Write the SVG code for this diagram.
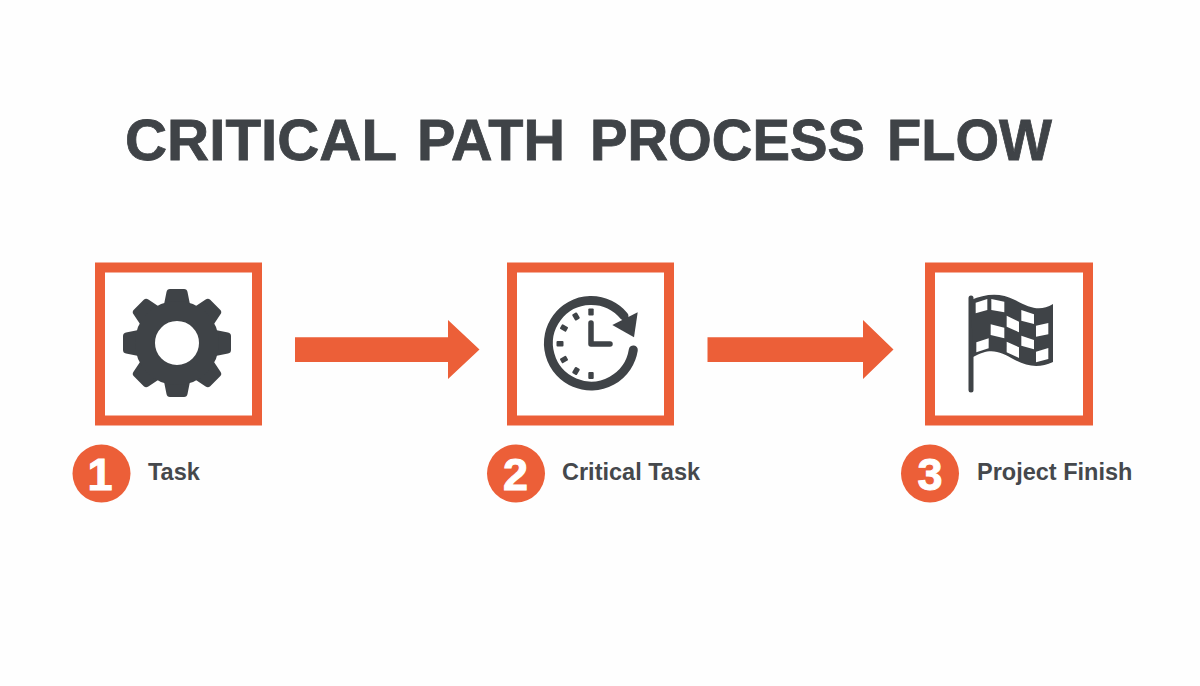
<svg xmlns="http://www.w3.org/2000/svg" width="1200" height="686" viewBox="0 0 1200 686">
<style>
.frame{fill:#fff;stroke:#ec5f38;stroke-width:10}
.dark{fill:#3f4347}
.badge{fill:#ec5f38}
.num{font:bold 45px "Liberation Sans",Arial,sans-serif;fill:#fff;stroke:#fff;stroke-width:1;text-anchor:middle}
.label{font:bold 23.5px "Liberation Sans",Arial,sans-serif;fill:#45484c}
.title{font:bold 58px "Liberation Sans",Arial,sans-serif;fill:#3f4347;stroke:#3f4347;stroke-width:.8}
.arrow{fill:#ec5f38}
.tick{fill:#3f4347}
.sq{fill:#fff}
</style>
<defs>
<path id="tooth" d="M-13.5,-36 L-10.5,-51 Q-10,-54 -7,-54 L7,-54 Q10,-54 10.5,-51 L13.5,-36 Z" fill="#3f4347"/>
</defs>
<rect width="1200" height="686" fill="#fefefe"/>
<text id="title" class="title" y="159.5"><tspan x="125" textLength="271" lengthAdjust="spacingAndGlyphs">CRITICAL</tspan> <tspan x="417" textLength="148" lengthAdjust="spacingAndGlyphs">PATH</tspan> <tspan x="590" textLength="275" lengthAdjust="spacingAndGlyphs">PROCESS</tspan> <tspan x="887" textLength="165" lengthAdjust="spacingAndGlyphs">FLOW</tspan></text>
<g id="connectors">
<polygon class="arrow" points="295,337.3 448,337.3 448,320 479.5,349.5 448,379 448,362 295,362"/>
<polygon class="arrow" points="707.5,337.3 863,337.3 863,320 893.5,349.5 863,379 863,362 707.5,362"/>
</g>
<g id="node-1">
<rect class="frame" x="100" y="267.5" width="157" height="153"/>
<g transform="translate(177 343)">
<use href="#tooth"/>
<use href="#tooth" transform="rotate(45)"/>
<use href="#tooth" transform="rotate(90)"/>
<use href="#tooth" transform="rotate(135)"/>
<use href="#tooth" transform="rotate(180)"/>
<use href="#tooth" transform="rotate(225)"/>
<use href="#tooth" transform="rotate(270)"/>
<use href="#tooth" transform="rotate(315)"/>
<circle r="32" fill="none" stroke="#3f4347" stroke-width="20"/>
</g>
<circle class="badge" cx="101.5" cy="473.5" r="29"/>
<text class="num" x="100" y="490">1</text>
<text class="label" x="148" y="480">Task</text>
</g>
<g id="node-2">
<rect class="frame" x="512" y="267.5" width="157" height="153"/>
<path d="M633.3,350 A42.7,42.7 0 1 1 624,316" fill="none" stroke="#3f4347" stroke-width="9" stroke-linecap="round"/>
<polygon class="dark" points="637.7,312.3 612.3,325 634,337.3"/>
<g class="tick">
<rect x="588.3" y="308.5" width="5.4" height="7" rx="1"/>
<rect x="573.3" y="313" width="5.4" height="7" rx="1" transform="rotate(-30 576 316.5)"/>
<rect x="561.3" y="324.5" width="5.4" height="7" rx="1" transform="rotate(-60 564 328)"/>
<rect x="556.5" y="341" width="7" height="5.4" rx="1"/>
<rect x="561.3" y="356" width="5.4" height="7" rx="1" transform="rotate(60 564 359.5)"/>
<rect x="573.3" y="367.5" width="5.4" height="7" rx="1" transform="rotate(30 576 371)"/>
<rect x="588.3" y="372" width="5.4" height="7" rx="1"/>
</g>
<path d="M591,323 V344 H610" fill="none" stroke="#3f4347" stroke-width="5.5" stroke-linecap="round" stroke-linejoin="round"/>
<circle class="badge" cx="516" cy="473.5" r="29"/>
<text class="num" x="515.5" y="490">2</text>
<text class="label" x="562" y="480">Critical Task</text>
</g>
<g id="node-3">
<rect class="frame" x="930" y="267.5" width="158" height="153"/>
<path d="M971,298 V390" stroke="#3f4347" stroke-width="5" stroke-linecap="round" fill="none"/>
<path class="dark" d="M971,300 C985,294 1000,292 1015,300 C1030,308 1040,312 1053,304 L1053,362 C1040,368 1028,367 1015,360 C1000,351 990,347 973,357 Z"/>
<g class="sq" transform="translate(915 255) scale(.3333)">
<polygon points="182,143 217,132 217,165 182,175"/>
<polygon points="229,132 268,140 268,172 229,165"/>
<polygon points="275,182 312,200 312,232 275,215"/>
<polygon points="319,165 357,178 357,207 319,197"/>
<polygon points="363,212 400,204 400,238 363,245"/>
<polygon points="227,208 268,218 268,250 227,240"/>
<polygon points="184,262 221,250 221,280 184,292"/>
<polygon points="275,260 312,277 312,309 275,292"/>
<polygon points="319,242 357,255 357,283 319,272"/>
<polygon points="363,290 400,279 400,312 363,322"/>
</g>
<circle class="badge" cx="930" cy="473.5" r="29"/>
<text class="num" x="930" y="490">3</text>
<text class="label" x="977" y="480">Project Finish</text>
</g>
</svg>
